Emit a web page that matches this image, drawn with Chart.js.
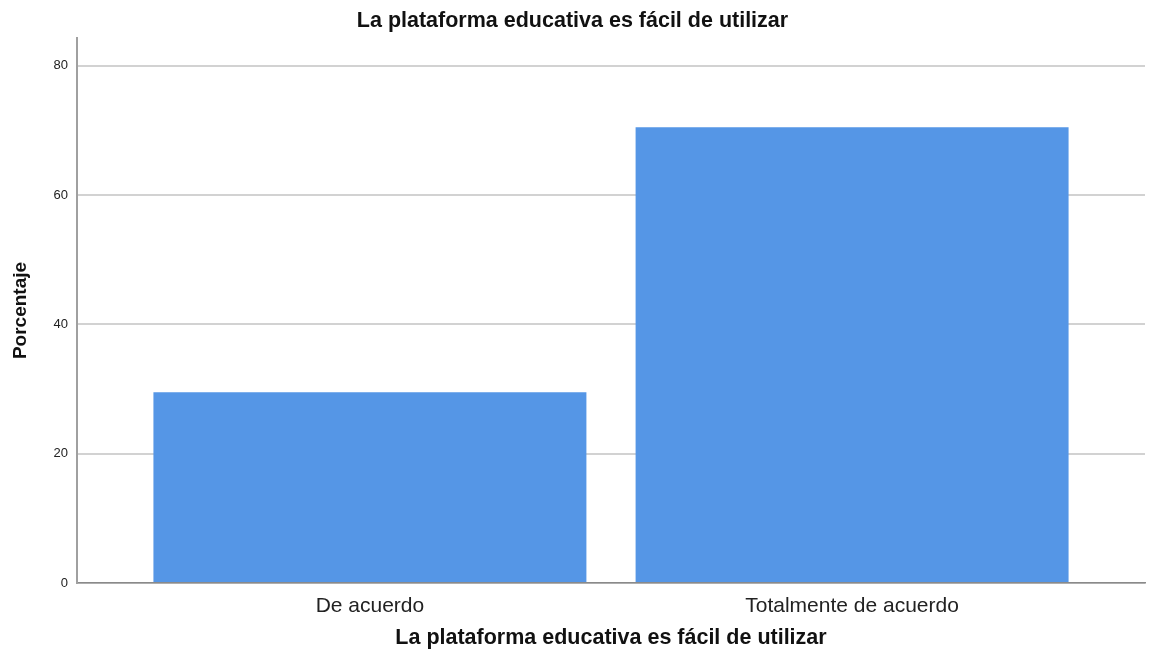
<!DOCTYPE html>
<html>
<head>
<meta charset="utf-8">
<script src="https://cdn.jsdelivr.net/npm/chart.js@4/dist/chart.umd.min.js"></script>
<style>
  html, body { margin: 0; padding: 0; background: #fff; }
  #wrap { width: 1152px; height: 663px; position: relative; }
</style>
</head>
<body>
<div id="wrap"><canvas id="chart"></canvas></div>
<script>
// Chart data
const categories = ['De acuerdo', 'Totalmente de acuerdo'];
const percentages = [29.5, 70.5];
const yTicks = [0, 20, 40, 60, 80];

const FONT = "'Liberation Sans', Arial, Helvetica, sans-serif";

const points = categories.map((c, i) => ({ x: i + 1, y: percentages[i] }));

new Chart(document.getElementById('chart'), {
  type: 'bar',
  data: {
    datasets: [{
      data: points,
      backgroundColor: '#5596e6',
      borderWidth: 0,
      barPercentage: 0.898,
      categoryPercentage: 1
    }]
  },
  options: {
    responsive: true,
    maintainAspectRatio: false,
    animation: false,
    layout: { padding: { left: 0, right: 7, top: 0, bottom: 0 } },
    plugins: {
      legend: { display: false },
      tooltip: { enabled: false },
      title: {
        display: true,
        text: 'La plataforma educativa es fácil de utilizar',
        color: '#111',
        font: { family: FONT, size: 21.5, weight: 'bold', lineHeight: 1.2 },
        padding: { top: 8.5, bottom: 3.7 }
      }
    },
    scales: {
      x: {
        type: 'linear',
        offset: false,
        min: 0.3925,
        max: 2.6075,
        grid: { display: false, drawTicks: false, offset: false },
        border: { display: true, color: '#8a8a8a', width: 1.5 },
        afterBuildTicks: (scale) => {
          scale.ticks = categories.map((c, i) => ({ value: i + 1 }));
        },
        afterFit: (scale) => { scale.height = 80; },
        ticks: {
          color: '#222',
          font: { family: FONT, size: 21 },
          padding: 11,
          autoSkip: false,
          maxRotation: 0,
          callback: (v) => categories[v - 1]
        },
        title: {
          display: true,
          text: 'La plataforma educativa es fácil de utilizar',
          color: '#111',
          font: { family: FONT, size: 21.5, weight: 'bold', lineHeight: 1.2 },
          padding: { top: 0, bottom: 12 }
        }
      },
      y: {
        min: 0,
        max: 84.3,
        afterBuildTicks: (scale) => {
          scale.ticks = yTicks.map(v => ({ value: v }));
        },
        afterFit: (scale) => { scale.width = 77; },
        grid: { color: '#d2d2d2', lineWidth: 2, drawTicks: false },
        border: { display: true, color: '#a0a0a0', width: 2 },
        ticks: {
          color: '#222',
          font: { family: FONT, size: 13 },
          padding: 9
        },
        title: {
          display: true,
          text: 'Porcentaje',
          color: '#111',
          font: { family: FONT, size: 19, weight: 'bold', lineHeight: 1.2 },
          padding: { top: 9.6, bottom: 0 }
        }
      }
    }
  }
});
</script>
</body>
</html>
